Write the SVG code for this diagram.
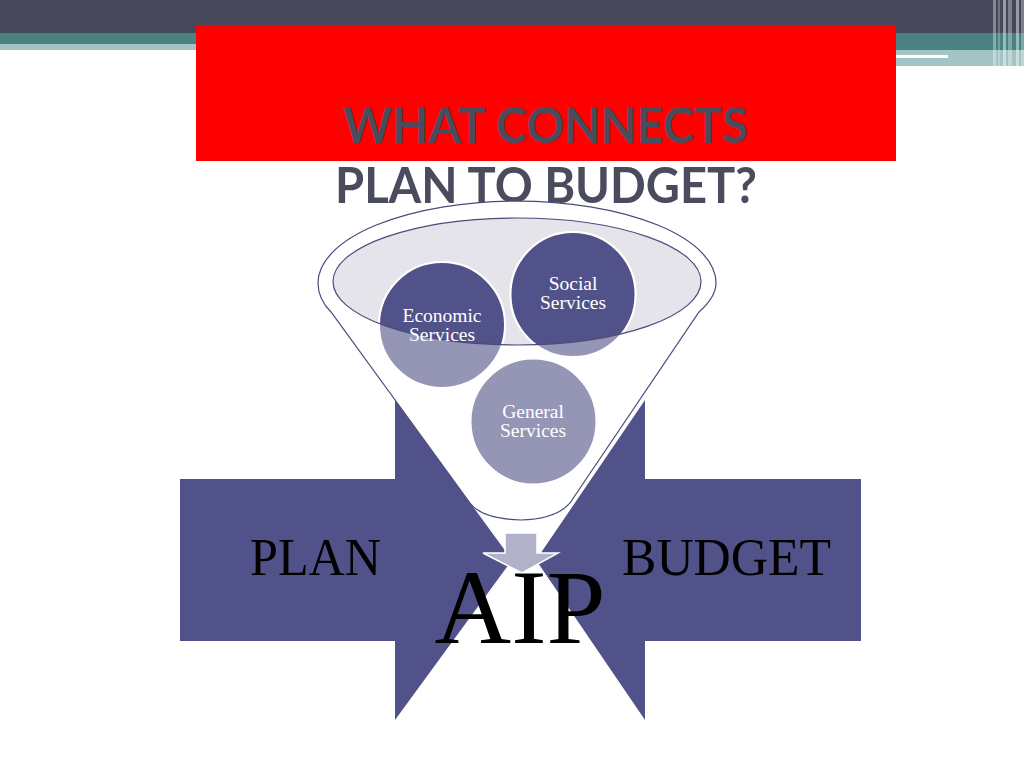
<svg xmlns="http://www.w3.org/2000/svg" width="1024" height="768" viewBox="0 0 1024 768">
<defs>
<style>
.title{font-family:Lato,"Open Sans","DejaVu Sans",sans-serif;font-weight:bold;font-size:49px;fill:#4a4b5c;text-anchor:middle}
.big{font-family:"Liberation Serif","Times New Roman",serif;fill:#000}
.ct{font-family:"Liberation Serif","Times New Roman",serif;font-size:19.5px;fill:#ffffff;text-anchor:middle}
.arrow{fill:#52528a}
.lt{fill:#9596b6;stroke:#ffffff;stroke-width:2}
.dk{fill:#52528a;stroke:#ffffff;stroke-width:2}
.stripe{fill:#ffffff}
</style>
<clipPath id="ellClip"><ellipse cx="517" cy="281.5" rx="184" ry="63.5"/></clipPath>
</defs>
<rect x="0" y="0" width="1024" height="768" fill="#ffffff"/>
<g id="header">
<rect x="0" y="0" width="1024" height="33" fill="#464759"/>
<rect x="0" y="33" width="196" height="11" fill="#4a8282"/>
<rect x="0" y="44" width="196" height="6" fill="#a3c4c4"/>
<rect x="896" y="33" width="128" height="17" fill="#4a8282"/>
<rect x="896" y="50" width="128" height="16" fill="#a3c4c4"/>
<rect x="896" y="55" width="52" height="3" fill="#ffffff"/>
<rect class="stripe" x="993" y="0" width="3" height="68" opacity="0.35"/>
<rect class="stripe" x="998" y="0" width="2" height="66" opacity="0.25"/>
<rect class="stripe" x="1003" y="0" width="3" height="70" opacity="0.45"/>
<rect class="stripe" x="1008" y="0" width="4" height="70" opacity="0.3"/>
<rect class="stripe" x="1016" y="0" width="3" height="66" opacity="0.45"/>
<rect class="stripe" x="1021" y="0" width="3" height="66" opacity="0.3"/>
<rect x="196" y="25" width="700" height="136" fill="#ff0000"/>
<text class="title" x="545.5" y="143" textLength="405" lengthAdjust="spacingAndGlyphs">WHAT CONNECTS</text>
<text class="title" x="546" y="203" textLength="422" lengthAdjust="spacingAndGlyphs">PLAN TO BUDGET?</text>
</g>
<g id="plan">
<polygon class="arrow" points="180,479 395,479 395,400 512,560 395,720 395,641 180,641"/>
<text class="big" x="250" y="575" font-size="52" textLength="131" lengthAdjust="spacingAndGlyphs">PLAN</text>
</g>
<g id="budget">
<polygon class="arrow" points="861,479 645,479 645,400 536,560 645,720 645,641 861,641"/>
<text class="big" x="622" y="575" font-size="52" textLength="209" lengthAdjust="spacingAndGlyphs">BUDGET</text>
</g>
<g id="funnel">
<path d="M318,283 A199,82 0 0 1 716,283 C716,294 708,304 699,312 L574,497 Q562,519 521,520 Q482,519 470,503 L331,312 C323,304 318,294 318,283 Z" fill="#ffffff" stroke="#4b4b7b" stroke-width="1.2"/>
<ellipse cx="517" cy="281.5" rx="184" ry="63.5" fill="#e4e4ea"/>
</g>
<g id="economic-services">
<circle class="lt" cx="442" cy="325" r="63"/>
<circle class="dk" cx="442" cy="325" r="63" clip-path="url(#ellClip)"/>
</g>
<g id="social-services">
<circle class="lt" cx="573" cy="294.5" r="62.5"/>
<circle class="dk" cx="573" cy="294.5" r="62.5" clip-path="url(#ellClip)"/>
</g>
<g id="general-services">
<circle class="lt" cx="533.5" cy="421.5" r="63"/>
</g>
<ellipse cx="517" cy="281.5" rx="184" ry="63.5" fill="none" stroke="#4b4b7b" stroke-width="1.2"/>
<g id="labels">
<text class="ct" x="442" y="322">Economic</text>
<text class="ct" x="442" y="341">Services</text>
<text class="ct" x="573" y="290">Social</text>
<text class="ct" x="573" y="309">Services</text>
<text class="ct" x="533" y="418">General</text>
<text class="ct" x="533" y="437">Services</text>
</g>
<g id="connectors">
<polygon points="505,533 537,533 537,553 558,553 522,573 483,553 505,553" fill="#b1b1c9" stroke="#ffffff" stroke-width="1.5"/>
</g>
<g id="aip">
<text class="big" x="520" y="643" font-size="106" text-anchor="middle" textLength="171" lengthAdjust="spacingAndGlyphs">AIP</text>
</g>
</svg>
